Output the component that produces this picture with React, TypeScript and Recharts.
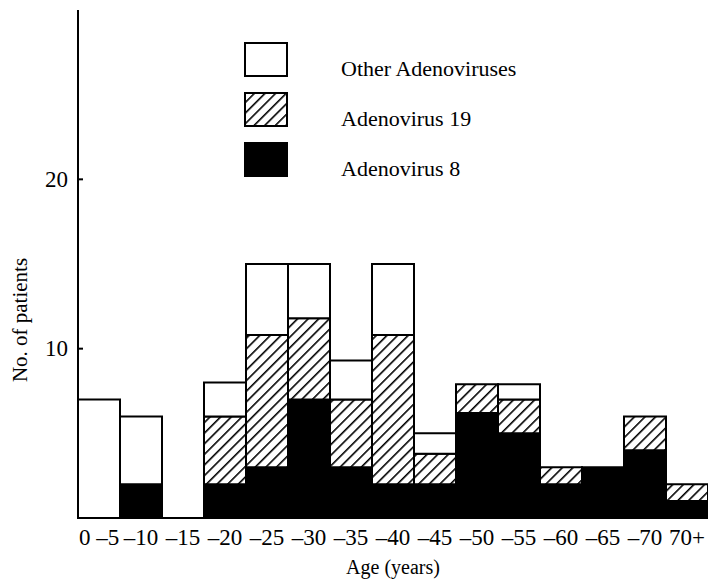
import { BarChart, Bar, XAxis, YAxis, Legend } from "recharts";

const INK = "#000";
const FONT = "'Liberation Serif', 'Times New Roman', serif";

// age bins (years)
const AGES = ["0 –5", "–10", "–15", "–20", "–25", "–30", "–35", "–40", "–45", "–50", "–55", "–60", "–65", "–70", "70+"];
// patients per bin, stacked bottom to top
const AD8 = [0, 2, 0, 2, 3, 7, 3, 2, 2, 6.2, 5, 2, 3, 4, 1];
const AD19 = [0, 0, 0, 4, 7.8, 4.8, 4, 8.8, 1.8, 1.7, 2, 1, 0, 2, 1];
const OTHER = [7, 4, 0, 2, 4.2, 3.2, 2.3, 4.2, 1.2, 0, 0.9, 0, 0, 0, 0];
const Y_TICKS = [10, 20];

const data = AGES.map((age, i) => ({ age, ad8: AD8[i], ad19: AD19[i], other: OTHER[i] }));

const LEGEND_ROWS = [
  { name: "Other Adenoviruses", fill: "#fff" },
  { name: "Adenovirus 19", fill: "url(#hatchLegend)" },
  { name: "Adenovirus 8", fill: INK },
];

function Hatch({ id }: { id: string }) {
  return (
    <pattern id={id} width="7.5" height="7.5" patternUnits="userSpaceOnUse" patternTransform="rotate(45)">
      <rect width="7.5" height="7.5" fill="#fff" />
      <line x1="0" y1="0" x2="0" y2="7.5" stroke={INK} strokeWidth="3.2" />
    </pattern>
  );
}

function YTick({ x, y, payload }: any) {
  return (
    <g>
      <line x1={x + 10} x2={x + 15} y1={y} y2={y} stroke={INK} strokeWidth={2} />
      <text x={x} y={y} textAnchor="end" dominantBaseline="central" fontFamily={FONT} fontSize={23} fill={INK}>
        {payload.value}
      </text>
    </g>
  );
}

function LegendBox() {
  return (
    <div style={{ fontFamily: FONT, fontSize: 22, color: INK, whiteSpace: "nowrap" }}>
      {LEGEND_ROWS.map((r) => (
        <div key={r.name} style={{ display: "flex", alignItems: "center", height: 50 }}>
          <svg width={44} height={36} style={{ display: "block" }}>
            <defs>
              <Hatch id="hatchLegend" />
            </defs>
            <rect x={1} y={1} width={42} height={33} fill={r.fill} stroke={INK} strokeWidth={2} />
          </svg>
          <span style={{ marginLeft: 53, position: "relative", top: 9 }}>{r.name}</span>
        </div>
      ))}
    </div>
  );
}

export default function App() {
  return (
    <div style={{ position: "absolute", left: 0, top: 0, width: 708, height: 582, background: "#fff" }}>
      <BarChart width={708} height={582} data={data} barCategoryGap={0} margin={{ top: 10, right: 0, bottom: 0, left: 0 }}>
        <defs>
          <Hatch id="hatch" />
        </defs>
        <XAxis
          dataKey="age"
          height={64}
          interval={0}
          tickLine={false}
          tickSize={0}
          tickMargin={11}
          axisLine={{ stroke: INK, strokeWidth: 2 }}
          tick={{ fill: INK, fontFamily: FONT, fontSize: 23 }}
          label={{ value: "Age (years)", position: "insideBottom", offset: 8, fill: INK, fontFamily: FONT, fontSize: 20 }}
        />
        <YAxis
          width={78}
          domain={[0, 30]}
          ticks={Y_TICKS}
          tickLine={false}
          tickSize={0}
          tickMargin={10}
          axisLine={{ stroke: INK, strokeWidth: 2 }}
          tick={<YTick />}
          label={({ viewBox }: any) => {
            const cx = viewBox.x + 20;
            const cy = viewBox.y + viewBox.height / 2 + 56;
            return (
              <text
                x={cx}
                y={cy}
                transform={`rotate(-90, ${cx}, ${cy})`}
                textAnchor="middle"
                dominantBaseline="central"
                fontFamily={FONT}
                fontSize={21}
                fill={INK}
              >
                No. of patients
              </text>
            );
          }}
        />
        <Legend
          layout="vertical"
          align="center"
          verticalAlign="middle"
          content={<LegendBox />}
          wrapperStyle={{ left: 244, top: 35, width: 320, height: 150 }}
        />
        <Bar dataKey="ad8" name="Adenovirus 8" stackId="a" fill={INK} stroke={INK} strokeWidth={2} isAnimationActive={false} />
        <Bar dataKey="ad19" name="Adenovirus 19" stackId="a" fill="url(#hatch)" stroke={INK} strokeWidth={2} isAnimationActive={false} />
        <Bar dataKey="other" name="Other Adenoviruses" stackId="a" fill="#fff" stroke={INK} strokeWidth={2} isAnimationActive={false} />
      </BarChart>
    </div>
  );
}
